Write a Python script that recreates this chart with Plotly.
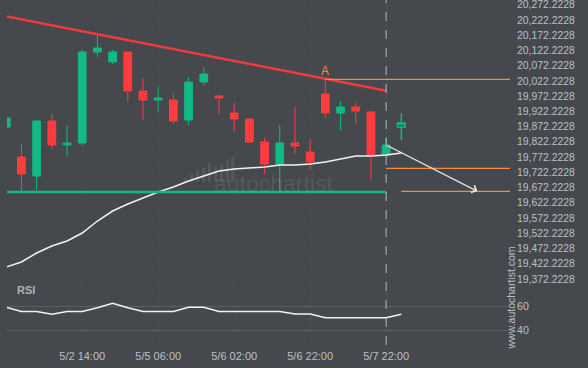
import plotly.graph_objects as go

# ---------------- data ----------------
idx = list(range(26))
opens  = [19870.9, 19772.5, 19710.1, 19890.6, 19811.9, 19818.4, 20117.0, 20084.2, 20117.0, 19989.0,
          19959.5, 19959.5, 19893.9, 20018.6, 19972.6, 19916.8, 19897.2, 19821.7, 19749.5, 19818.4,
          19788.9, 19979.2, 19916.8, 19936.5, 19920.1, 19779.1]
highs  = [19900.5, 19815.1, 19893.9, 19913.6, 19874.2, 20123.5, 20176.0, 20123.5, 20118.0, 20031.7,
          20002.2, 19982.5, 20035.0, 20067.8, 19975.9, 19949.7, 19900.4, 19834.8, 19877.5, 19936.5,
          19831.5, 20028.4, 19956.2, 19949.7, 19923.4, 19838.1]
lows   = [19870.9, 19657.6, 19664.2, 19798.7, 19775.8, 19811.9, 20100.6, 20077.6, 19952.9, 19893.9,
          19920.1, 19880.8, 19877.5, 20008.7, 19913.6, 19857.8, 19818.4, 19716.7, 19657.6, 19782.3,
          19733.1, 19900.4, 19861.1, 19880.8, 19697.0, 19779.1]
closes = [19900.5, 19716.7, 19890.6, 19811.9, 19818.4, 20117.0, 20130.1, 20117.0, 19989.0, 19959.5,
          19966.1, 19890.6, 20018.6, 20044.8, 19966.1, 19897.2, 19821.7, 19749.5, 19818.4, 19808.6,
          19756.1, 19916.8, 19936.5, 19923.4, 19779.1, 19811.9]

# candle after the current one (drawn hollow)
next_idx = 26
next_ohlc = [19870.9, 19916.8, 19828.3, 19884.0]

ma_idx = list(range(27))
ma_values = [19411.6, 19428.0, 19457.5, 19480.5, 19496.9, 19523.1, 19562.5, 19595.3, 19618.3, 19638.0,
             19657.6, 19674.1, 19693.7, 19710.1, 19726.6, 19733.1, 19736.4, 19739.7, 19746.2, 19746.2,
             19749.5, 19756.1, 19765.9, 19775.8, 19775.8, 19779.1, 19785.6]

rsi_values = [58.9, 55.6, 55.6, 53.2, 55.6, 55.6, 58.6, 62.2, 58.6, 55.6,
              55.6, 55.6, 58.9, 58.9, 55.6, 55.6, 55.6, 55.6, 55.6, 53.5,
              53.5, 50.4, 50.4, 50.4, 50.4, 50.4, 53.2]

resistance_idx = [0, 25]
resistance_vals = [20234.1, 19990.0]
support_idx = [0, 25]
support_vals = [19657.6, 19657.6]

pivot_idx = 21              # point "A"
pivot_level = 20027.4
current_idx = 25
target_level_1 = 19735.4
target_level_2 = 19660.0
forecast_end_idx = 31
x_end = 33.15

price_ticks = [19372.2228 + 50 * k for k in range(19)]
price_tick_text = [f"{v:,.4f}" for v in price_ticks]
rsi_ticks = [40, 60]
time_tick_idx = [5, 10, 15, 20, 25]
time_tick_text = ["5/2 14:00", "5/5 06:00", "5/6 02:00", "5/6 22:00", "5/7 22:00"]

# ---------------- style ----------------
BG = "#45484d"
GREEN = "#12b886"
RED = "#ff3b3f"
TREND_RED = "#f23a3c"
ORANGE = "#f58a42"
TXT = "#bcc0c6"
FONT = "Liberation Sans, Arial, sans-serif"

fig = go.Figure()

fig.add_trace(go.Candlestick(
    x=idx, open=opens, high=highs, low=lows, close=closes,
    increasing=dict(line=dict(color=GREEN, width=1), fillcolor=GREEN),
    decreasing=dict(line=dict(color=RED, width=1), fillcolor=RED),
    whiskerwidth=0, showlegend=False, hoverinfo="skip", yaxis="y", xaxis="x"))

fig.add_trace(go.Candlestick(
    x=[next_idx], open=[next_ohlc[0]], high=[next_ohlc[1]], low=[next_ohlc[2]], close=[next_ohlc[3]],
    increasing=dict(line=dict(color=GREEN, width=1.5), fillcolor=BG),
    decreasing=dict(line=dict(color=GREEN, width=1.5), fillcolor=BG),
    whiskerwidth=0, showlegend=False, hoverinfo="skip", yaxis="y", xaxis="x"))

# moving average
fig.add_trace(go.Scatter(x=ma_idx, y=ma_values, mode="lines",
                         line=dict(color="#f2f2f2", width=1.5),
                         showlegend=False, hoverinfo="skip", yaxis="y"))

# support & resistance
fig.add_trace(go.Scatter(x=support_idx, y=support_vals, mode="lines",
                         line=dict(color=GREEN, width=2.5),
                         showlegend=False, hoverinfo="skip", yaxis="y"))
fig.add_trace(go.Scatter(x=resistance_idx, y=resistance_vals, mode="lines",
                         line=dict(color=TREND_RED, width=2.5),
                         showlegend=False, hoverinfo="skip", yaxis="y"))

# orange levels
for start, lvl in [(pivot_idx, pivot_level), (current_idx, target_level_1), (next_idx, target_level_2)]:
    fig.add_trace(go.Scatter(x=[start, x_end], y=[lvl, lvl], mode="lines",
                             line=dict(color=ORANGE, width=1.3),
                             showlegend=False, hoverinfo="skip", yaxis="y"))

# RSI
fig.add_trace(go.Scatter(x=ma_idx, y=rsi_values, mode="lines",
                         line=dict(color="#f2f2f2", width=1.5),
                         showlegend=False, hoverinfo="skip", yaxis="y2"))

shapes = [
    dict(type="line", xref="x", yref="paper", x0=current_idx, x1=current_idx, y0=0, y1=1,
         line=dict(color="#b4b6b9", width=1, dash="dash"), layer="above"),
]
# watermark bars (logo)
def px_x(p):
    return (p - 7) / 503
def px_y(p):
    return (345 - p) / 345
logo_bars = [(184, 178), (190, 174), (196, 170), (202, 168), (208, 163), (214, 166), (220, 164), (226, 160), (231, 157)]
for bx, top in logo_bars:
    shapes.append(dict(type="rect", xref="paper", yref="paper",
                       x0=px_x(bx), x1=px_x(bx + 3), y0=px_y(182), y1=px_y(top),
                       fillcolor="rgba(255,255,255,0.08)", line=dict(width=0), layer="below"))

annotations = [
    dict(x=forecast_end_idx, y=target_level_2, ax=current_idx, ay=closes[current_idx],
         xref="x", yref="y", axref="x", ayref="y", showarrow=True, arrowhead=4,
         arrowsize=1.2, arrowwidth=1.3, arrowcolor="#e6e6e6", text=""),
    dict(x=pivot_idx, y=highs[pivot_idx], xref="x", yref="y", text="A", showarrow=False,
         xanchor="center", yanchor="bottom", yshift=-1, font=dict(color=ORANGE, size=12, family=FONT)),
    dict(x=px_x(274), y=px_y(184), xref="paper", yref="paper", text="autochartist", showarrow=False,
         xanchor="center", yanchor="middle",
         font=dict(color="rgba(255,255,255,0.09)", size=23, family=FONT)),
    dict(x=px_x(15), y=px_y(290), xref="paper", yref="paper", text="<b>RSI</b>", showarrow=False,
         xanchor="left", yanchor="middle", font=dict(color="#aeb2b8", size=11, family=FONT)),
    dict(x=px_x(510.5), y=px_y(298), xref="paper", yref="paper", text="www.autochartist.com",
         xanchor="center", yanchor="middle",
         showarrow=False, textangle=-90, font=dict(color=TXT, size=10.5, family=FONT)),
]

fig.update_layout(
    width=588, height=368,
    margin=dict(l=7, r=78, t=0, b=23, autoexpand=False),
    paper_bgcolor=BG, plot_bgcolor=BG,
    font=dict(family=FONT, color=TXT, size=11),
    showlegend=False,
    boxgap=0.27,
    xaxis=dict(range=[0.05, x_end], anchor="y2", tickvals=time_tick_idx, ticktext=time_tick_text,
               showgrid=True, gridcolor="rgba(255,255,255,0.05)", griddash="dot",
               zeroline=False, showline=False, ticks="", rangeslider=dict(visible=False),
               ticklabelstandoff=3, ticklabeloverflow="allow",
               tickfont=dict(color=TXT, size=11)),
    yaxis=dict(domain=[0.1739, 1], range=[19352.5, 20287.6], side="right",
               tickvals=price_ticks, ticktext=price_tick_text, showgrid=False,
               zeroline=False, showline=False, ticks="", ticklabelstandoff=6,
               ticklabeloverflow="allow",
               tickfont=dict(color=TXT, size=10.4)),
    yaxis2=dict(domain=[0, 0.168], range=[28.0, 75.6], side="right", anchor="x",
                tickvals=rsi_ticks, showgrid=True, gridcolor="#5b5f64", gridwidth=1,
                zeroline=False, showline=False, ticks="", ticklabelstandoff=6,
                tickfont=dict(color=TXT, size=10.6)),
    shapes=shapes,
    annotations=annotations,
)

fig.write_html("out.html", config={"displayModeBar": False},
               post_script="document.body.style.margin='0';document.body.style.padding='0';document.body.style.background='" + BG + "';")
